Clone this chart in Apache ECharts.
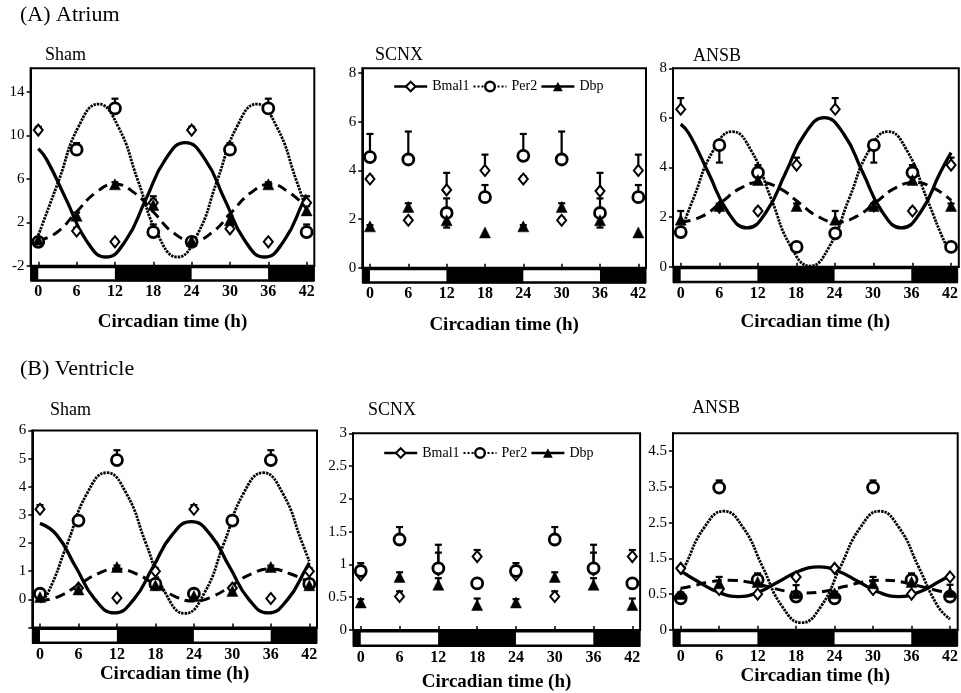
<!DOCTYPE html>
<html>
<head>
<meta charset="utf-8">
<script src="https://cdn.jsdelivr.net/npm/echarts@6/dist/echarts.min.js"></script>
<style>
html,body{margin:0;padding:0;background:#fff;}
#chart{width:961px;height:693px;}
</style>
</head>
<body>
<div id="chart"></div>
<script>
// ---------------- DATA ----------------
const hours = [0, 6, 12, 18, 24, 30, 36, 42];
const xTicks = [0, 6, 12, 18, 24, 30, 36, 42];
const genes = ['Bmal1', 'Per2', 'Dbp'];
const phaseStart = [-12, 0, 12, 24, 36];
const phaseEnd = [0, 12, 24, 36, 48];
const phaseKind = ['dark', 'light', 'dark', 'light', 'dark'];

// (A) Atrium - Sham
const atrShamBmal1 = [10.5, 1.2, 0.2, 3.8, 10.5, 1.4, 0.2, 3.8];
const atrShamBmal1Err = [0.3, 0.3, 0.2, 0.6, 0.3, 0.3, 0.2, 0.6];
const atrShamPer2 = [0.2, 8.7, 12.5, 1.1, 0.2, 8.7, 12.5, 1.1];
const atrShamPer2Err = [0.2, 0.6, 0.9, 0.7, 0.2, 0.6, 0.9, 0.7];
const atrShamDbp = [0.4, 2.6, 5.5, 3.6, 0.3, 2.2, 5.5, 3.1];
const atrShamDbpErr = [0.1, 0.3, 0.2, 0.5, 0.1, 0.4, 0.2, 0.4];
const atrShamBmal1Fit = [[0,8.8],[1.3,7.8],[4.4,4.07],[7.5,0.34],[10.6,-1.2],[13.7,0.34],[16.8,4.07],[19.9,7.8],[23,9.34],[26.1,7.8],[29.2,4.07],[32.3,0.34],[35.4,-1.2],[38.5,0.34],[41.6,4.07],[42,4.55]];
const atrShamPer2Fit = [[0,0.8],[3.2,5.85],[6.3,10.83],[9.4,12.9],[12.5,10.83],[15.6,5.85],[18.7,0.87],[21.8,-1.2],[24.9,0.87],[28,5.85],[31.1,10.83],[34.2,12.9],[37.3,10.83],[40.4,5.85],[42,3.1]];
const atrShamDbpFit = [[0,0.3],[2.9,1.06],[5.9,2.9],[9,4.74],[12,5.5],[15,4.74],[18.1,2.9],[21.1,1.06],[24.2,0.3],[27.2,1.06],[30.2,2.9],[33.3,4.74],[36.3,5.5],[39.3,4.74],[42,3.3]];
const atrShamYTicks = [-2, 2, 6, 10, 14];
const atrShamYLabels = ['-2', '2', '6', '10', '14'];

// (A) Atrium - SCNX
const atrScnxBmal1 = [3.65, 1.95, 3.2, 4.0, 3.65, 1.95, 3.15, 4.0];
const atrScnxBmal1Err = [0.1, 0.1, 0.7, 0.65, 0.1, 0.1, 0.75, 0.65];
const atrScnxPer2 = [4.55, 4.45, 2.25, 2.9, 4.6, 4.45, 2.25, 2.9];
const atrScnxPer2Err = [0.95, 1.15, 0.6, 0.5, 0.9, 1.15, 0.6, 0.5];
const atrScnxDbp = [1.7, 2.5, 1.95, 1.45, 1.7, 2.5, 1.95, 1.45];
const atrScnxDbpErr = [0.05, 0.15, -0.3, -0.15, 0.05, 0.15, -0.3, -0.15];
const atrScnxYTicks = [0, 2, 4, 6, 8];
const atrScnxYLabels = ['0', '2', '4', '6', '8'];

// (A) Atrium - ANSB
const atrAnsbBmal1 = [6.35, 2.4, 2.25, 4.1, 6.35, 2.45, 2.25, 4.1];
const atrAnsbBmal1Err = [0.45, 0.1, 0.1, 0.3, 0.45, 0.1, 0.1, 0.3];
const atrAnsbPer2 = [1.4, 4.9, 3.8, 0.8, 1.35, 4.9, 3.8, 0.8];
const atrAnsbPer2Err = [-0.2, -0.7, 0.3, 0.1, 0.1, -0.7, 0.3, -0.15];
const atrAnsbDbp = [1.9, 2.45, 3.5, 2.45, 1.9, 2.45, 3.5, 2.45];
const atrAnsbDbpErr = [0.35, 0.1, 0.3, 0.1, 0.35, 0.1, 0.3, 0.1];
const atrAnsbBmal1Fit = [[0,5.75],[1.3,5.36],[4.3,3.79],[7.3,2.22],[10.3,1.57],[13.3,2.22],[16.3,3.79],[19.3,5.36],[22.3,6.01],[25.3,5.36],[28.3,3.79],[31.3,2.22],[34.3,1.57],[37.3,2.22],[40.3,3.79],[42,4.6]];
const atrAnsbPer2Fit = [[0,1.43],[1.95,2.74],[5,4.66],[8,5.45],[11,4.66],[14.05,2.74],[17.1,0.82],[20.1,0.03],[23.1,0.82],[26.15,2.74],[29.2,4.66],[32.2,5.45],[35.2,4.66],[38.25,2.74],[41.3,0.82],[42,0.62]];
const atrAnsbDbpFit = [[0,1.8],[3.3,2.03],[6.3,2.6],[9.3,3.17],[12.3,3.4],[15.3,3.17],[18.3,2.6],[21.3,2.03],[24.3,1.8],[27.3,2.03],[30.3,2.6],[33.3,3.17],[36.3,3.4],[39.3,3.17],[42,2.68]];
const atrAnsbYTicks = [0, 2, 4, 6, 8];
const atrAnsbYLabels = ['0', '2', '4', '6', '8'];

// (B) Ventricle - Sham
const venShamBmal1 = [3.2, 0.4, 0.05, 1.0, 3.2, 0.4, 0.03, 1.0];
const venShamBmal1Err = [0.15, 0.05, 0.05, 0.1, 0.15, 0.05, 0.05, 0.1];
const venShamPer2 = [0.2, 2.8, 4.95, 0.55, 0.2, 2.8, 4.95, 0.55];
const venShamPer2Err = [0.05, 0.15, 0.35, 0.05, 0.05, 0.15, 0.35, 0.05];
const venShamDbp = [0.08, 0.35, 1.15, 0.5, 0.12, 0.3, 1.15, 0.5];
const venShamDbpErr = [0.05, 0.05, 0.05, 0.05, 0.05, 0.05, 0.05, 0.05];
const venShamBmal1Fit = [[0,2.7],[2.6,2.29],[5.6,1.14],[8.6,-0.01],[11.6,-0.48],[14.6,-0.01],[17.6,1.14],[20.6,2.29],[23.6,2.76],[26.6,2.29],[29.6,1.14],[32.6,-0.01],[35.6,-0.48],[38.6,-0.01],[41.6,1.14],[42,1.3]];
const venShamPer2Fit = [[0,-0.1],[1.25,0.23],[4.3,2.0],[7.35,3.77],[10.4,4.5],[13.45,3.77],[16.5,2.0],[19.55,0.23],[22.6,-0.5],[25.65,0.23],[28.7,2.0],[31.75,3.77],[34.8,4.5],[37.85,3.77],[40.9,2.0],[42,1.35]];
const venShamDbpFit = [[0,-0.06],[3,0.11],[6,0.51],[9,0.91],[12,1.08],[15,0.91],[18,0.51],[21,0.11],[24,-0.06],[27,0.11],[30,0.51],[33,0.91],[36,1.08],[39,0.91],[42,0.6]];
const venShamYTicks = [-1, 0, 1, 2, 3, 4, 5, 6];
const venShamYLabels = ['', '0', '1', '2', '3', '4', '5', '6'];

// (B) Ventricle - SCNX
const venScnxBmal1 = [0.84, 0.51, 0.92, 1.12, 0.84, 0.51, 0.92, 1.12];
const venScnxBmal1Err = [0.05, 0.08, 0.26, 0.1, 0.05, 0.08, 0.26, 0.1];
const venScnxPer2 = [0.9, 1.38, 0.94, 0.71, 0.9, 1.38, 0.94, 0.71];
const venScnxPer2Err = [0.12, 0.19, 0.36, 0.05, 0.12, 0.19, 0.36, 0.05];
const venScnxDbp = [0.42, 0.81, 0.69, 0.38, 0.42, 0.81, 0.69, 0.38];
const venScnxDbpErr = [0.05, 0.07, 0.1, 0.1, 0.05, 0.07, 0.1, 0.1];
const venScnxYTicks = [0, 0.5, 1, 1.5, 2, 2.5, 3];
const venScnxYLabels = ['0', '0.5', '1', '1.5', '2', '2.5', '3'];

// (B) Ventricle - ANSB
const venAnsbBmal1 = [1.22, 0.63, 0.5, 0.98, 1.22, 0.63, 0.5, 0.98];
const venAnsbBmal1Err = [0.03, 0.03, 0.03, 0.05, 0.03, 0.03, 0.03, 0.05];
const venAnsbPer2 = [0.38, 3.48, 0.9, 0.43, 0.38, 3.48, 0.9, 0.43];
const venAnsbPer2Err = [0.15, 0.2, 0.15, 0.12, 0.15, 0.2, 0.15, 0.12];
const venAnsbDbp = [0.5, 0.8, 0.84, 0.52, 0.52, 0.8, 0.84, 0.56];
const venAnsbDbpErr = [0.05, 0.18, 0.24, 0.23, 0.05, 0.18, 0.24, 0.2];
const venAnsbBmal1Fit = [[0,1.15],[2.75,0.845],[5.9,0.55],[9,0.43],[12.1,0.55],[15.25,0.845],[18.4,1.14],[21.5,1.26],[24.6,1.14],[27.75,0.845],[30.9,0.55],[34,0.43],[37.1,0.55],[40.25,0.845],[42,1.02]];
const venAnsbPer2Fit = [[0,1.05],[0.6,1.26],[3.66,2.36],[6.7,2.82],[9.74,2.36],[12.78,1.26],[15.8,0.16],[18.85,-0.3],[21.9,0.16],[24.9,1.26],[28,2.36],[31,2.82],[34.05,2.36],[37.1,1.26],[40.1,0.16],[42,-0.2]];
const venAnsbDbpFit = [[0,0.66],[1.5,0.71],[4.5,0.84],[7.5,0.89],[10.5,0.84],[13.5,0.71],[16.5,0.58],[19.5,0.53],[22.5,0.58],[25.5,0.71],[28.5,0.84],[31.5,0.89],[34.5,0.84],[37.5,0.71],[40.5,0.58],[42,0.54]];
const venAnsbYTicks = [-0.5, 0.5, 1.5, 2.5, 3.5, 4.5];
const venAnsbYLabels = ['0', '0.5', '1.5', '2.5', '3.5', '4.5'];

// ---------------- LAYOUT / STYLE ----------------
const FONT = "'Liberation Serif', 'Times New Roman', serif";
const X_MIN = -1.2, X_MAX = 43.2;

const panels = [
  {title:'Sham', tl:45, tt:46, left:30.6, width:283.7, top:68.3, height:197.4, barH:15.5, yMin:-2, yMax:16.2, yInt:4,
   yTicks:atrShamYTicks, yLabels:atrShamYLabels, nameGap:31,
   pts:[atrShamBmal1, atrShamPer2, atrShamDbp], errs:[atrShamBmal1Err, atrShamPer2Err, atrShamDbpErr],
   fits:[atrShamBmal1Fit, atrShamPer2Fit, atrShamDbpFit]},
  {title:'SCNX', tl:375, tt:46, left:362.3, width:283.7, top:68.3, height:199.4, barH:15.5, yMin:0, yMax:8.2, yInt:2,
   yTicks:atrScnxYTicks, yLabels:atrScnxYLabels, nameGap:32,
   pts:[atrScnxBmal1, atrScnxPer2, atrScnxDbp], errs:[atrScnxBmal1Err, atrScnxPer2Err, atrScnxDbpErr],
   fits:null, legend:{left:393, top:79.5}},
  {title:'ANSB', tl:693, tt:47, left:673, width:285.8, top:68.3, height:198.5, barH:16, yMin:0, yMax:8, yInt:2,
   yTicks:atrAnsbYTicks, yLabels:atrAnsbYLabels, nameGap:30,
   pts:[atrAnsbBmal1, atrAnsbPer2, atrAnsbDbp], errs:[atrAnsbBmal1Err, atrAnsbPer2Err, atrAnsbDbpErr],
   fits:[atrAnsbBmal1Fit, atrAnsbPer2Fit, atrAnsbDbpFit]},
  {title:'Sham', tl:50, tt:401, left:32.3, width:284.7, top:430.5, height:197, barH:16, yMin:-1, yMax:6, yInt:1,
   yTicks:venShamYTicks, yLabels:venShamYLabels, nameGap:21,
   pts:[venShamBmal1, venShamPer2, venShamDbp], errs:[venShamBmal1Err, venShamPer2Err, venShamDbpErr],
   fits:[venShamBmal1Fit, venShamPer2Fit, venShamDbpFit]},
  {title:'SCNX', tl:368, tt:401, left:353, width:287.1, top:433.3, height:196.7, barH:16.5, yMin:0, yMax:3, yInt:0.5,
   yTicks:venScnxYTicks, yLabels:venScnxYLabels, nameGap:26,
   pts:[venScnxBmal1, venScnxPer2, venScnxDbp], errs:[venScnxBmal1Err, venScnxPer2Err, venScnxDbpErr],
   fits:null, legend:{left:383, top:446}},
  {title:'ANSB', tl:692, tt:399, left:673, width:284.7, top:433.3, height:196.5, barH:16.5, yMin:-0.5, yMax:5, yInt:1,
   yTicks:venAnsbYTicks, yLabels:venAnsbYLabels, nameGap:20,
   pts:[venAnsbBmal1, venAnsbPer2, venAnsbDbp], errs:[venAnsbBmal1Err, venAnsbPer2Err, venAnsbDbpErr],
   fits:[venAnsbBmal1Fit, venAnsbPer2Fit, venAnsbDbpFit]}
];

const pointStyle = [
  {symbol:'diamond', size:[9,11], itemStyle:{color:'#fff', borderColor:'#000', borderWidth:2, opacity:1}},
  {symbol:'circle', size:11, itemStyle:{color:'#fff', borderColor:'#000', borderWidth:2.8, opacity:1}},
  {symbol:'triangle', size:11, itemStyle:{color:'#000', borderColor:'#000', borderWidth:0.5, opacity:1}}
];
const fitStyle = [
  {width:3.3, type:'solid'},
  {width:2.8, type:[2.4,1]},
  {width:3, type:[10,6]}
];

function labelFor(ticks, labels, v) {
  for (let i = 0; i < ticks.length; i++) {
    if (Math.abs(ticks[i] - v) < 1e-6) return labels[i];
  }
  return '';
}

function renderPhase(params, api) {
  const a = api.coord([api.value(0), 1]);
  const b = api.coord([api.value(1), 0]);
  const light = api.value(2) === 1;
  let rect = {x:a[0], y:a[1], width:b[0]-a[0], height:b[1]-a[1]};
  if (light) { rect.y += 2.5; rect.height -= 4.5; }
  const cs = params.coordSys;
  rect = echarts.graphic.clipRectByRect(rect, {x:cs.x, y:cs.y, width:cs.width, height:cs.height});
  if (!rect) return;
  return {type:'rect', shape:rect, style:{fill: light ? '#fff' : '#000'}};
}

function renderErr(params, api) {
  const t = api.value(0), v = api.value(1), e = api.value(2);
  if (!e) return;
  const p0 = api.coord([t, v]);
  const p1 = api.coord([t, v + e]);
  return {type:'group', children:[
    {type:'line', shape:{x1:p0[0], y1:p0[1], x2:p1[0], y2:p1[1]}, style:{stroke:'#000', lineWidth:2.2}},
    {type:'line', shape:{x1:p1[0]-3.5, y1:p1[1], x2:p1[0]+3.5, y2:p1[1]}, style:{stroke:'#000', lineWidth:2.2}}
  ]};
}

const option = {
  animation:false, backgroundColor:'#fff',
  title:[
    {text:'(A) Atrium', left:20, top:4, padding:0, textStyle:{fontFamily:FONT, fontSize:22, fontWeight:'normal', color:'#000'}},
    {text:'(B) Ventricle', left:20, top:358, padding:0, textStyle:{fontFamily:FONT, fontSize:22, fontWeight:'normal', color:'#000'}}
  ],
  grid:[], xAxis:[], yAxis:[], series:[], legend:[]
};

panels.forEach((p, i) => {
  const gi = 2*i, bi = 2*i + 1;
  option.title.push({text:p.title, left:p.tl, top:p.tt, padding:0,
    textStyle:{fontFamily:FONT, fontSize:18, fontWeight:'normal', color:'#000'}});
  option.grid.push({left:p.left, top:p.top, width:p.width, height:p.height, show:true,
    borderColor:'#000', borderWidth:2, backgroundColor:'rgba(0,0,0,0)'});
  option.grid.push({left:p.left, top:p.top + p.height, width:p.width, height:p.barH, show:true,
    borderColor:'#000', borderWidth:1, backgroundColor:'#000'});
  option.xAxis.push({gridIndex:gi, type:'value', min:X_MIN, max:X_MAX,
    axisLine:{show:true, onZero:false, lineStyle:{color:'#000', width:2}},
    axisTick:{show:true, inside:true, length:4, customValues:xTicks, lineStyle:{color:'#000', width:1.5}},
    axisLabel:{show:false}, splitLine:{show:false}});
  option.xAxis.push({gridIndex:bi, type:'value', min:X_MIN, max:X_MAX,
    axisLine:{show:false}, axisTick:{show:false}, splitLine:{show:false},
    axisLabel:{show:true, customValues:xTicks, margin:3, fontFamily:FONT, fontSize:16, fontWeight:'bold', color:'#000'},
    name:'Circadian time (h)', nameLocation:'middle', nameGap:p.nameGap,
    nameTextStyle:{fontFamily:FONT, fontSize:19, fontWeight:'bold', color:'#000'}});
  option.yAxis.push({gridIndex:gi, type:'value', min:p.yMin, max:p.yMax, interval:p.yInt,
    axisLine:{show:true, onZero:false, lineStyle:{color:'#000', width:2}},
    axisTick:{show:true, length:4, customValues:p.yTicks, lineStyle:{color:'#000', width:1.5}},
    axisLabel:{show:true, customValues:p.yTicks, margin:6, fontFamily:FONT, fontSize:15, color:'#000',
      formatter:(v) => labelFor(p.yTicks, p.yLabels, v)},
    splitLine:{show:false}});
  option.yAxis.push({gridIndex:bi, type:'value', min:0, max:1, show:false});

  option.series.push({type:'custom', name:'phase', xAxisIndex:bi, yAxisIndex:bi, silent:true,
    renderItem:renderPhase, encode:{x:[0,1]},
    data:phaseStart.map((s, k) => [s, phaseEnd[k], phaseKind[k] === 'light' ? 1 : 0])});

  if (p.fits) {
    p.fits.forEach((fit, g) => {
      option.series.push({type:'line', name:genes[g], xAxisIndex:gi, yAxisIndex:gi, data:fit,
        smooth:0.5, showSymbol:false, symbol:pointStyle[g].symbol, silent:true, z:2,
        lineStyle:{color:'#000', width:fitStyle[g].width, type:fitStyle[g].type, opacity:1},
        itemStyle:pointStyle[g].itemStyle});
    });
  }
  p.pts.forEach((vals, g) => {
    option.series.push({type:'custom', name:genes[g] + ' error', xAxisIndex:gi, yAxisIndex:gi, silent:true, z:3,
      renderItem:renderErr, encode:{x:0, y:1},
      data:hours.map((h, k) => [h, vals[k], p.errs[g][k]])});
  });
  p.pts.forEach((vals, g) => {
    option.series.push({type:'scatter', name:genes[g], xAxisIndex:gi, yAxisIndex:gi, z:4, silent:true,
      symbol:pointStyle[g].symbol, symbolSize:pointStyle[g].size, itemStyle:pointStyle[g].itemStyle,
      data:hours.map((h, k) => [h, vals[k]])});
  });
  if (p.legend) {
    option.legend.push({left:p.legend.left, top:p.legend.top, padding:0, orient:'horizontal',
      itemWidth:33, itemHeight:12, itemGap:3, selectedMode:false,
      textStyle:{fontFamily:FONT, fontSize:14, color:'#000'},
      data:[
        {name:'Bmal1', lineStyle:{color:'#000', width:2.4, type:'solid', opacity:1}, itemStyle:{color:'#fff', borderColor:'#000', borderWidth:2, opacity:1}},
        {name:'Per2', lineStyle:{color:'#000', width:2, type:[2,2], opacity:1}, itemStyle:{color:'#fff', borderColor:'#000', borderWidth:2.4, opacity:1}},
        {name:'Dbp', lineStyle:{color:'#000', width:2.4, type:'solid', opacity:1}, itemStyle:{color:'#000', borderColor:'#000', borderWidth:0, opacity:1}}
      ]});
  }
});

const chart = echarts.init(document.getElementById('chart'), null, {renderer:'canvas'});
chart.setOption(option);
</script>
</body>
</html>
